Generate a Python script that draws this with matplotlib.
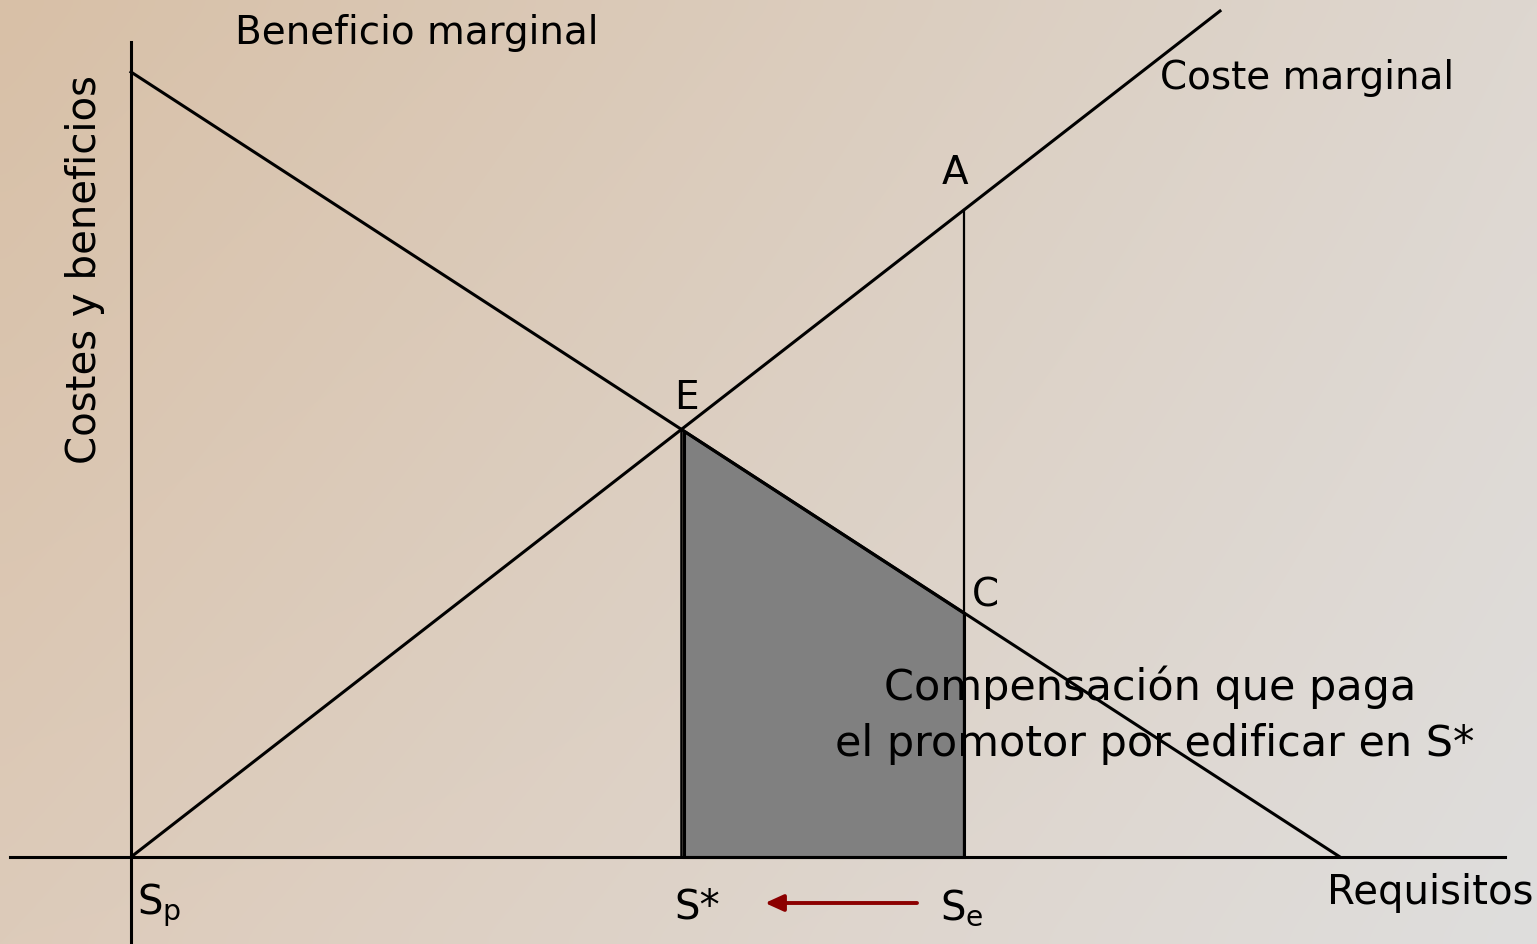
import numpy as np
import matplotlib
matplotlib.use("Agg")
import matplotlib.pyplot as plt
from matplotlib.patches import Polygon

plt.rcParams['font.family'] = ['DejaVu Sans']

# ---- data (diagram units) ----
mb_x = [0.0, 12.09]      # marginal benefit line
mb_y = [7.85, 0.0]
mc_x = [0.0, 10.89]      # marginal cost line
mc_y = [0.0, 8.46]
s_star = 5.50            # optimal requirement S*
s_e = 8.33               # requirement S_e
labels_curves = ["Beneficio marginal", "Coste marginal"]
point_labels = ["A", "E", "C"]
comp_text = ["Compensación que paga", "el promotor por edificar en S*"]
x_label = "Requisitos"
y_label = "Costes y beneficios"

def mb(x):
    return np.interp(x, mb_x, mb_y)

def mc(x):
    return np.interp(x, mc_x, mc_y)

fig = plt.figure(figsize=(15.37, 9.45), dpi=100)
ax = fig.add_axes([0, 0, 1, 1])
xlim = (-1.31, 14.06)
ylim = (-0.87, 8.58)
ax.set_xlim(*xlim)
ax.set_ylim(*ylim)
ax.axis('off')

# background gradient
ny, nx = 60, 100
u = np.linspace(0, 1, nx)[None, :, None]
v = np.linspace(0, 1, ny)[:, None, None]  # 0 top, 1 bottom
TL = np.array([216, 192, 167]) / 255
TR = np.array([222, 215, 208]) / 255
BL = np.array([221, 203, 186]) / 255
BR = np.array([223, 222, 221]) / 255
img = (1 - u) * (1 - v) * TL + u * (1 - v) * TR + (1 - u) * v * BL + u * v * BR
ax.imshow(img, extent=[xlim[0], xlim[1], ylim[0], ylim[1]], origin='upper',
          aspect='auto', zorder=0, interpolation='bicubic')

lw = 2.2
# axes
ax.plot([0, 0], [ylim[0], 8.15], color='black', lw=lw, zorder=3)
ax.plot([-1.21, 13.74], [0, 0], color='black', lw=lw, zorder=3)

# shaded compensation area
off = 0.035
poly = [(s_star + off, mb(s_star + off)), (s_star + off, 0), (s_e, 0), (s_e, mb(s_e))]
ax.add_patch(Polygon(poly, closed=True, facecolor='#808080', edgecolor='black',
                     lw=lw, zorder=2))
ax.plot([s_star, s_star], [0, mb(s_star)], color='black', lw=1.8, zorder=3)

# curves
ax.plot(mb_x, mb_y, color='black', lw=lw, zorder=3)
ax.plot(mc_x, mc_y, color='black', lw=lw, zorder=3)
ax.plot([s_e, s_e], [0, mc(s_e)], color='black', lw=1.6, zorder=3)

fs = 28
fs2 = 31
ax.text(2.86, 8.25, labels_curves[0], fontsize=fs, ha='center', va='center', zorder=4)
ax.text(11.76, 7.80, labels_curves[1], fontsize=fs, ha='center', va='center', zorder=4)
ax.text(s_e - 0.09, mc(s_e) + 0.38, point_labels[0], fontsize=fs, ha='center', va='center', zorder=4)
ax.text(s_star + 0.05, mb(s_star) + 0.32, point_labels[1], fontsize=fs, ha='center', va='center', zorder=4)
ax.text(s_e + 0.21, mb(s_e) + 0.18, point_labels[2], fontsize=fs, ha='center', va='center', zorder=4)
ax.text(10.19, 1.71, comp_text[0], fontsize=fs2, ha='center', va='center', zorder=4)
ax.text(10.24, 1.14, comp_text[1], fontsize=fs2, ha='center', va='center', zorder=4)
ax.text(12.99, -0.35, x_label, fontsize=fs + 1, ha='center', va='center', zorder=4)
ax.text(-0.46, 5.88, y_label, fontsize=fs + 1, ha='center', va='center', rotation=90, zorder=4)

ax.text(0.06, -0.47, r'S$_{\mathrm{p}}$', fontsize=fs + 1, ha='left', va='center', zorder=4)
ax.text(s_star + 0.16, -0.50, 'S*', fontsize=fs + 1, ha='center', va='center', zorder=4)
ax.text(s_e - 0.24, -0.50, r'S$_{\mathrm{e}}$', fontsize=fs + 1, ha='left', va='center', zorder=4)

# arrow from S_e towards S*
ax.annotate('', xy=(s_star + 0.84, -0.46), xytext=(s_e - 0.47, -0.46),
            arrowprops=dict(arrowstyle='-|>,head_length=1.1,head_width=0.5',
                            color='#8b0000', lw=2.8, shrinkA=0, shrinkB=0),
            zorder=4)

fig.savefig('out.png', dpi=100)
